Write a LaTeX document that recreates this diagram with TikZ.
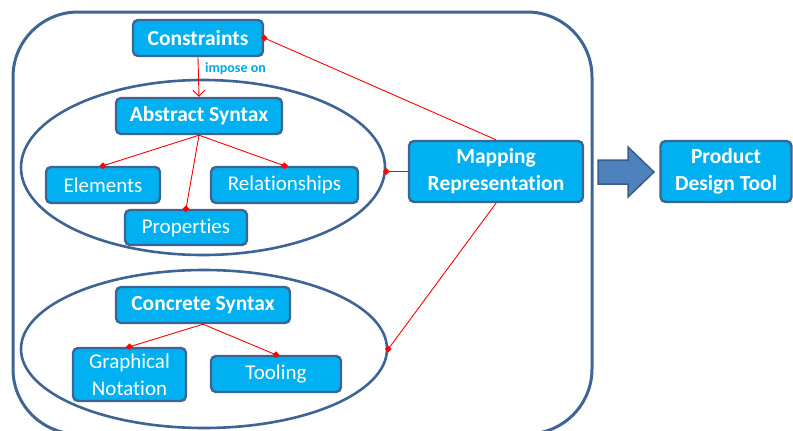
\documentclass[tikz,border=0pt]{standalone}
\usepackage{fontspec}
\setmainfont{Carlito}[Ligatures=NoCommon]
\usetikzlibrary{shapes.geometric,arrows.meta}
\definecolor{boxfill}{HTML}{00B0F0}
\definecolor{boxedge}{HTML}{3D6493}
\definecolor{outeredge}{HTML}{3F6594}
\definecolor{arrfill}{HTML}{4F81BD}
\definecolor{arredge}{HTML}{385D8A}
\definecolor{labblue}{HTML}{00A6E8}
\tikzset{
  box/.style={draw=boxedge, fill=boxfill, line width=2.4pt, rounded corners=5pt,
    text=white, align=center, inner sep=0pt, font=\fontsize{21}{27}\selectfont},
  bbox/.style={box, font=\fontsize{21.5}{27}\selectfont\bfseries},
  oval/.style={draw=boxedge, line width=2.6pt, ellipse, inner sep=0pt},
  rl/.style={draw=red, line width=0.9pt},
  dmd/.style={diamond, fill=red, inner sep=0pt, minimum size=7pt},
}
\begin{document}
\begin{tikzpicture}[x=1pt,y=-1pt]
\useasboundingbox (0,0) rectangle (793,431);
\clip (0,0) rectangle (793,431);
% outer frame
\draw[outeredge, line width=3pt, rounded corners=65pt] (13,12) rectangle (592,434);
% ellipses
\node[oval, minimum width=364pt, minimum height=175pt] (absE) at (203,167.5) {};
\node[oval, minimum width=366pt, minimum height=158pt] (conE) at (204,349) {};
% nodes
\node[bbox, minimum width=130pt, minimum height=36pt] (con) at (198,38) {Constraints};
\node[bbox, minimum width=166pt, minimum height=36pt] (abs) at (199,116) {Abstract Syntax};
\node[box, minimum width=114pt, minimum height=36pt] (el) at (103,185) {Elements};
\node[box, minimum width=147pt, minimum height=36pt] (rel) at (284.5,185) {Relationships};
\node[box, minimum width=122pt, minimum height=35pt] (prop) at (186,227.5) {Properties};
\node[bbox, minimum width=174pt, minimum height=36pt] (cs) at (203,305) {Concrete Syntax};
\node[box, minimum width=113pt, minimum height=53pt] (gn) at (129.5,374.5) {Graphical\\Notation};
\node[box, minimum width=130pt, minimum height=36pt] (tool) at (276,374) {Tooling};
\node[bbox, minimum width=174pt, minimum height=61pt] (map) at (496,171.5) {Mapping\\Representation};
\node[bbox, minimum width=131pt, minimum height=61pt] (pdt) at (726,171.5) {Product\\Design Tool};
% impose on
\draw[rl, -{Straight Barb[length=6pt,width=12pt]}] (con.south) -- (abs.north)
  node[pos=0.3, right=3pt, text=labblue, font=\fontsize{14}{16}\selectfont\bfseries] {impose on};
% tree connectors
\draw[rl] (abs.south) -- (el.north) node[dmd] {};
\draw[rl] (abs.south) -- (rel.north) node[dmd] {};
\draw[rl] (abs.south) -- (prop.north) node[dmd] {};
\draw[rl] (cs.south) -- (gn.north) node[dmd] {};
\draw[rl] (cs.south) -- (tool.north) node[dmd] {};
% mapping connectors
\draw[rl] (map.north) -- (con.east) node[dmd] {};
\draw[rl] (map.west) -- (absE.east |- map.west) node[dmd] {};
\draw[rl] (map.south) -- (conE.east) node[dmd] {};
% block arrow
\draw[arredge, fill=arrfill, line width=1.5pt, line join=miter]
  (598,160) -- (628,160) -- (628,147) -- (654,172) -- (628,197) -- (628,184) -- (598,184) -- cycle;
\end{tikzpicture}
\end{document}
